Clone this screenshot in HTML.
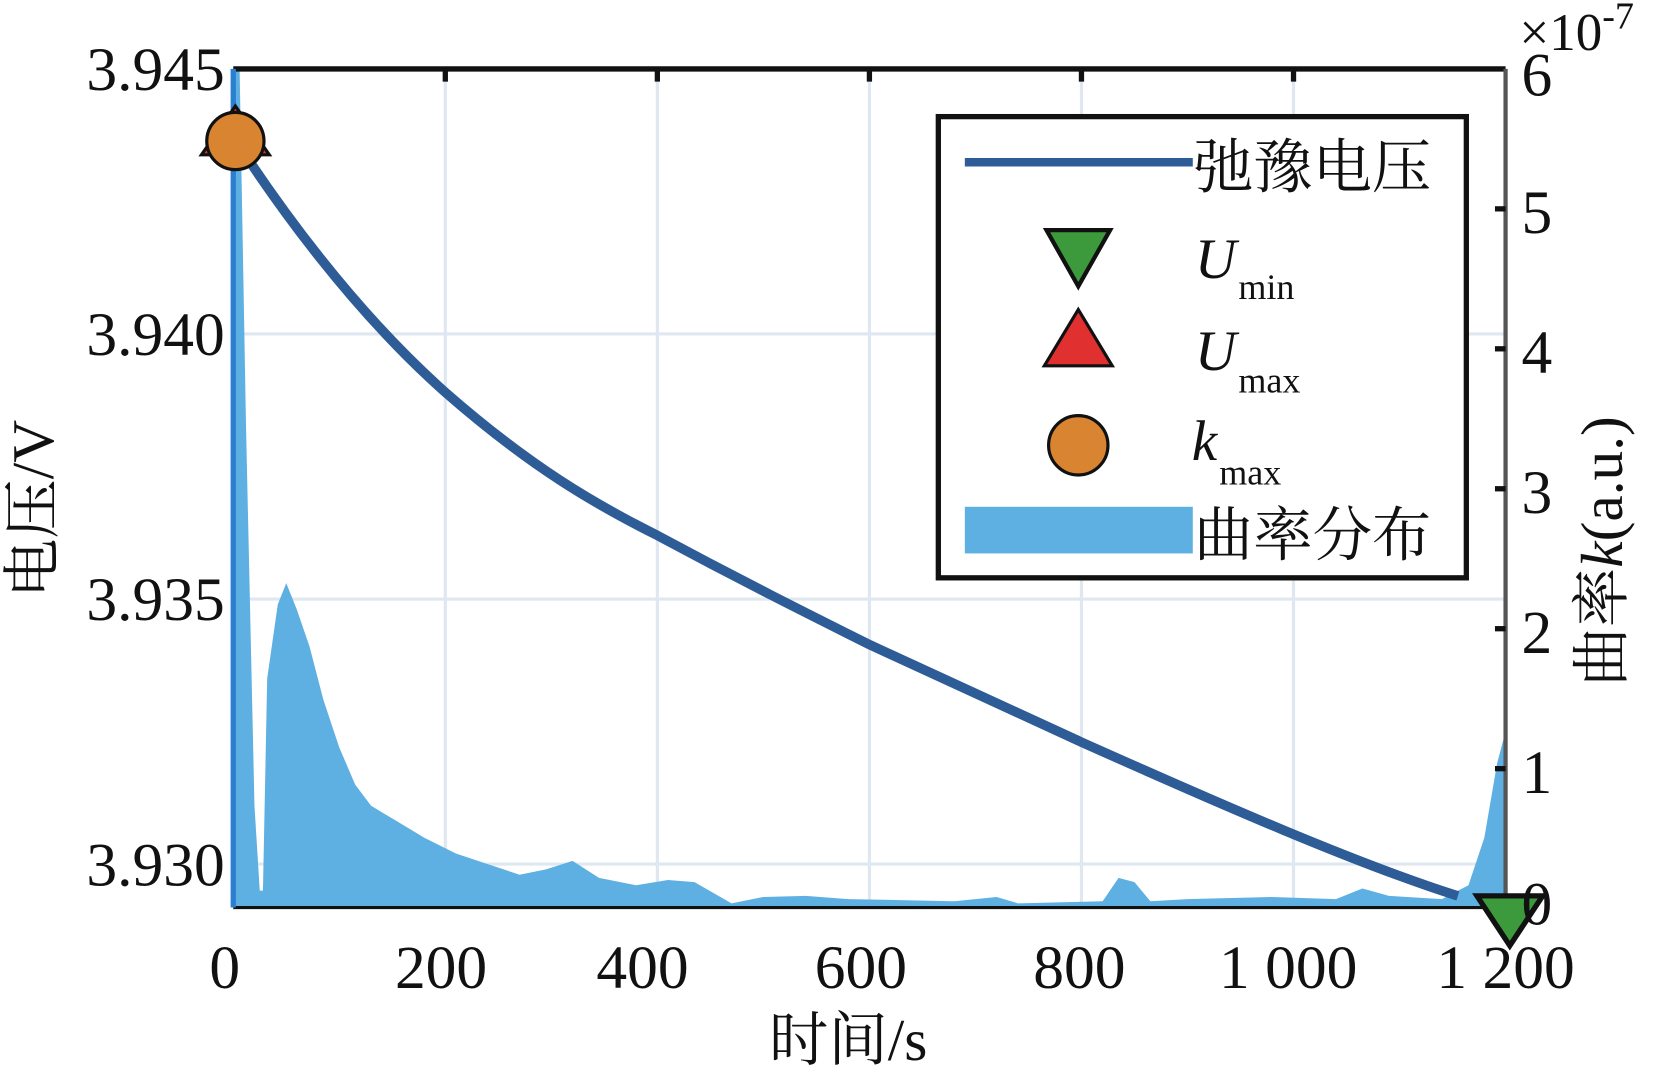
<!DOCTYPE html>
<html><head><meta charset="utf-8"><style>
html,body{margin:0;padding:0;background:#fff;}
svg{display:block;}
text{font-family:"Liberation Serif","Noto Serif CJK SC",serif;fill:#111;}
</style></head><body>
<svg width="1654" height="1065" viewBox="0 0 1560 1004.5" preserveAspectRatio="none" xmlns="http://www.w3.org/2000/svg">
<rect width="1560" height="1004.5" fill="#fff"/>
<g stroke="#dfe8f0" stroke-width="3">
<line x1="420" y1="65" x2="420" y2="856"/><line x1="620" y1="65" x2="620" y2="856"/><line x1="820" y1="65" x2="820" y2="856"/><line x1="1020" y1="65" x2="1020" y2="856"/><line x1="1220" y1="65" x2="1220" y2="856"/>
<line x1="220" y1="315" x2="1420" y2="315"/><line x1="220" y1="565" x2="1420" y2="565"/><line x1="220" y1="815" x2="1420" y2="815"/>
</g>
<path fill="#5fb0e2" d="M220,856 L220,65 L226,65 L232,400 L240,760 L245,840 L248,840 L252,640 L262,570 L270,550 L280,575 L292,610 L305,660 L320,705 L335,740 L350,760 L375,775 L400,790 L430,805 L460,815 L490,825 L515,820 L540,812 L565,828 L600,835 L630,830 L655,832 L690,852 L720,846 L760,845 L800,848 L900,850 L940,846 L960,852 L1040,850 L1055,828 L1070,832 L1085,850 L1120,848 L1200,846 L1260,848 L1285,838 L1310,845 L1360,848 L1385,835 L1400,790 L1412,720 L1420,690 L1420,856 Z"/>
<line x1="220" y1="65" x2="1420" y2="65" stroke="#111" stroke-width="5"/>
<line x1="220" y1="856" x2="1420" y2="856" stroke="#111" stroke-width="3"/>
<line x1="220" y1="65" x2="220" y2="856" stroke="#2a7fd0" stroke-width="5"/>
<line x1="1420" y1="65" x2="1420" y2="856" stroke="#555" stroke-width="4"/>
<g stroke="#111" stroke-width="5">
<line x1="420" y1="65" x2="420" y2="77"/><line x1="620" y1="65" x2="620" y2="77"/><line x1="820" y1="65" x2="820" y2="77"/><line x1="1020" y1="65" x2="1020" y2="77"/><line x1="1220" y1="65" x2="1220" y2="77"/>
<line x1="1420" y1="197" x2="1410" y2="197"/><line x1="1420" y1="329" x2="1410" y2="329"/><line x1="1420" y1="461" x2="1410" y2="461"/><line x1="1420" y1="593" x2="1410" y2="593"/><line x1="1420" y1="725" x2="1410" y2="725"/>
</g>
<path fill="none" stroke="#2e5c97" stroke-width="9" d="M224,135 C260,190 330,290 420,370 C500,440 560,475 620,505 C700,548 760,578 820,608 C900,645 960,672 1020,700 C1150,758 1280,815 1375,845"/>
<polygon points="222,100 190,146 254,146" fill="#e03030" stroke="#111" stroke-width="3"/>
<circle cx="222" cy="133" r="27" fill="#d98430" stroke="#111" stroke-width="3"/>
<polygon points="1393,845 1455,845 1424,892" fill="#3c9a3c" stroke="#111" stroke-width="5"/>
<g font-size="58" text-anchor="end">
<text x="212" y="85">3.945</text><text x="212" y="335">3.940</text><text x="212" y="585">3.935</text><text x="212" y="835">3.930</text>
</g>
<g font-size="58" text-anchor="middle">
<text x="212" y="932">0</text><text x="416" y="932">200</text><text x="606" y="932">400</text><text x="812" y="932">600</text><text x="1018" y="932">800</text><text x="1215" y="932">1 000</text><text x="1420" y="932">1 200</text>
</g>
<g font-size="58" text-anchor="start">
<text x="1435" y="90">6</text><text x="1435" y="220">5</text><text x="1435" y="352">4</text><text x="1435" y="484">3</text><text x="1435" y="616">2</text><text x="1435" y="748">1</text><text x="1435" y="872">0</text>
</g>
<text x="1433" y="47" font-size="50">×10<tspan font-size="36" dy="-20">-7</tspan></text>
<text x="800" y="1000" font-size="56" text-anchor="middle">时间/s</text>
<text transform="translate(50,480) rotate(-90)" font-size="56" text-anchor="middle">电压/V</text>
<text transform="translate(1530,520) rotate(-90)" font-size="56" text-anchor="middle">曲率<tspan font-style="italic">k</tspan>(a.u.)</text>
<rect x="885" y="110" width="498" height="435" fill="#fff" stroke="#111" stroke-width="5"/>
<line x1="910" y1="153" x2="1125" y2="153" stroke="#2e5c97" stroke-width="8"/>
<text x="1126" y="177" font-size="56">弛豫电压</text>
<polygon points="987,217 1047,217 1017,270" fill="#3c9a3c" stroke="#111" stroke-width="4"/>
<text x="1127" y="262" font-size="54" font-style="italic">U</text><text x="1168" y="282" font-size="34">min</text>
<polygon points="1017,292 985,345 1049,345" fill="#e03030" stroke="#111" stroke-width="3"/>
<text x="1127" y="349" font-size="54" font-style="italic">U</text><text x="1168" y="370" font-size="34">max</text>
<circle cx="1017" cy="420" r="28" fill="#d98430" stroke="#111" stroke-width="3"/>
<text x="1124" y="434" font-size="54" font-style="italic">k</text><text x="1150" y="457" font-size="34">max</text>
<rect x="910" y="478" width="215" height="44" fill="#5fb0e2"/>
<text x="1126" y="524" font-size="56">曲率分布</text>
</svg>
</body></html>
